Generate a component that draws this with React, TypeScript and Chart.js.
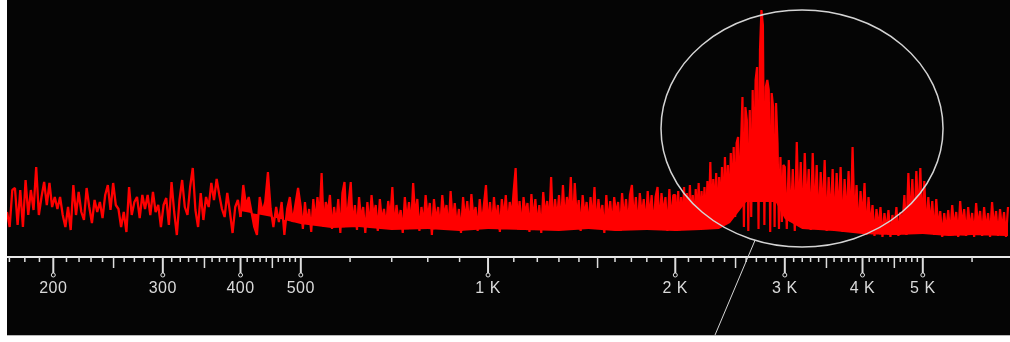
import { useEffect, useRef } from "react";
import { Chart, registerables } from "chart.js";

Chart.register(...registerables);

// Frequency span of the analyser display (Hz)
const freqMin = 168.5;
const freqMax = 6905;

// Edges of the sampled bands (Hz); each band has its own level array below
const bandEdges = [168.5, 400, 500, 1000, 2000, 3000, 6905];

// Levels (arbitrary units above the baseline)
const level170to400 = [
  45, 30, 67, 69, 32, 67, 30, 77, 42, 67, 47, 90, 42, 60, 75, 52, 74, 50, 60, 48,
  60, 42, 30, 50, 27, 72, 42, 65, 45, 37, 69, 50, 34, 57, 45, 55, 39, 62, 72, 47,
  74, 52, 48, 30, 45, 25, 70, 42, 55, 60, 39, 62, 48, 62, 42, 65, 45, 52, 30, 52,
  59, 32, 75, 45, 22, 57, 77, 50, 42, 70, 89, 47, 30, 64, 37, 60, 50, 74, 57, 78,
  62, 48, 40, 64, 45, 24, 50, 57,
];
const level400to500 = [
  40, 72, 52, 60, 45, 30, 22, 60, 45, 55, 85, 48, 30, 50, 35, 55, 22, 48, 60, 35,
  52, 69,
];
const level500to1k = [
  50, 28, 55, 33, 48, 25, 58, 35, 60, 40, 84, 30, 55, 45, 62, 28, 50, 32, 58, 24,
  64, 75, 35, 55, 75, 30, 52, 27, 60, 38, 50, 24, 55, 30, 62, 40, 52, 26, 58, 35,
  48, 30, 56, 38, 70, 28, 52, 34, 47, 24, 60, 36, 55, 30, 74, 40, 58, 26, 50, 32,
  62, 38, 54, 22, 58, 35, 50, 28, 62, 40, 52, 27, 66, 35, 54, 30, 48, 24, 60, 36,
  56, 30, 63, 38, 50, 26, 58, 33, 52, 72,
];
const level1kto2k = [
  30, 55, 28, 60, 35, 52, 25, 58, 38, 62, 30, 55, 40, 66, 89, 32, 56, 27, 60, 42,
  54, 25, 63, 36, 58, 30, 52, 24, 65, 40, 56, 33, 80, 28, 58, 37, 62, 30, 72, 35,
  60, 45, 80, 28, 74, 38, 57, 26, 62, 40, 55, 30, 60, 35, 70, 28, 58, 38, 52, 24,
  62, 34, 56, 30, 60, 42, 55, 26, 64, 36, 58, 30, 62, 72, 35, 60, 27, 64, 40, 58,
  30, 66, 38, 62, 28, 60, 70, 32, 64, 42, 60, 26, 68, 35, 62,
];
const level2kto3k = [
  62, 26, 66, 30, 60, 27, 70, 32, 64, 28, 72, 34, 62, 27, 68, 36, 74, 30, 66, 38,
  70, 29, 76, 40, 95, 33, 78, 42, 84, 30, 80, 45, 90, 35, 100, 48, 92, 38, 104, 52,
  110, 40, 114, 120, 55, 112, 160, 30, 150, 137, 26, 147, 40, 167, 80, 177, 190, 28, 207, 247,
  232, 32, 170, 177, 167, 25, 164, 150, 30, 154, 114, 28, 100, 35, 92,
];
const level3kto7k = [
  90, 28, 97, 35, 88, 26, 115, 40, 95, 30, 104, 45, 88, 27, 104, 38, 92, 30, 85, 42,
  97, 26, 80, 36, 88, 28, 84, 40, 90, 25, 78, 35, 86, 28, 110, 32, 72, 24, 66, 36,
  74, 22, 60, 30, 52, 21, 48, 28, 50, 20, 44, 26, 47, 20, 42, 27, 50, 21, 45, 30,
  62, 22, 84, 35, 78, 28, 86, 40, 89, 30, 76, 25, 60, 32, 56, 22, 58, 28, 46, 20,
  44, 26, 47, 21, 52, 28, 45, 20, 56, 30, 48, 21, 50, 27, 44, 20, 54, 29, 46, 21,
  50, 26, 44, 20, 55, 28, 46, 21, 48, 27, 45, 20, 50,
];

// Floor of the solid core of the dense spectrum (Hz, level)
const floorFreqs = [
  400, 450, 500, 560, 620, 700, 800, 900, 1000, 1150, 1300, 1450, 1600, 1800, 2000, 2200,
  2350, 2450, 2600, 2900, 3000, 3200, 3600, 4000, 4500, 5000, 5500, 6000, 6905,
];
const floorLevels = [
  46, 40, 33, 29, 30, 27, 28, 26, 28, 27, 26, 28, 26, 27, 26, 27,
  28, 34, 55, 55, 38, 28, 26, 23, 22, 23, 21, 22, 21,
];

// Axis tick values (Hz) and labels
const majorTicks = [200, 300, 400, 500, 1000, 2000, 3000, 4000, 5000];
const majorLabels = ["200", "300", "400", "500", "1 K", "2 K", "3 K", "4 K", "5 K"];
const midTicks = [250, 350, 450, 1500, 2500, 3500, 4500];
const minorTicks = [
  170, 180, 190, 210, 220, 230, 240, 260, 270, 280, 290, 310, 320, 330, 340, 360, 370, 380,
  390, 410, 420, 430, 440, 460, 470, 480, 490, 600, 700, 800, 900, 1100, 1200, 1300, 1400,
  1600, 1700, 1800, 1900, 2100, 2200, 2300, 2400, 2600, 2700, 2800, 2900, 3100, 3200, 3300,
  3400, 3600, 3700, 3800, 3900, 4100, 4200, 4300, 4400, 4600, 4700, 4800, 4900, 6000,
];

// Highlight annotation around the resonance (data units)
const highlightFreq = [1897, 5389];
const highlightLevel = [10, 247];
const pointerFrom = { f: 2688, v: 17 };
const pointerTo = { f: 2317, v: -78 };

const levelBands = [level170to400, level400to500, level500to1k, level1kto2k, level2kto3k, level3kto7k];

function bandPoints(s: number) {
  const vals = levelBands[s];
  const f0 = bandEdges[s];
  const f1 = bandEdges[s + 1];
  return vals.map((v, i) => ({ x: f0 * Math.pow(f1 / f0, i / vals.length), y: v }));
}

function buildSparse() {
  const pts = bandPoints(0);
  pts.push(bandPoints(1)[0]);
  return pts;
}

function buildDense() {
  const pts: { x: number; y: number }[] = [];
  for (let s = 1; s < levelBands.length; s++) pts.push(...bandPoints(s));
  return pts;
}

function buildFloor() {
  return floorFreqs.map((f, i) => ({ x: f, y: floorLevels[i] }));
}

const analyserPlugin = {
  id: "analyserAxis",
  afterDraw(chart: any) {
    const ctx = chart.ctx as CanvasRenderingContext2D;
    const xs = chart.scales.x;
    const ys = chart.scales.y;
    const base = chart.chartArea.bottom;
    ctx.save();
    // axis line
    ctx.strokeStyle = "#e8e8e8";
    ctx.lineWidth = 2;
    ctx.beginPath();
    ctx.moveTo(0, base);
    ctx.lineTo(chart.width, base);
    ctx.stroke();
    // minor ticks
    ctx.lineWidth = 1.5;
    ctx.strokeStyle = "#dedede";
    minorTicks.forEach((f) => {
      const x = xs.getPixelForValue(f);
      ctx.beginPath();
      ctx.moveTo(x, base);
      ctx.lineTo(x, base + 5);
      ctx.stroke();
    });
    midTicks.forEach((f) => {
      const x = xs.getPixelForValue(f);
      ctx.beginPath();
      ctx.moveTo(x, base);
      ctx.lineTo(x, base + 11);
      ctx.stroke();
    });
    // major ticks with pins
    ctx.lineWidth = 2;
    majorTicks.forEach((f) => {
      const x = xs.getPixelForValue(f);
      ctx.beginPath();
      ctx.moveTo(x, base);
      ctx.lineTo(x, base + 16);
      ctx.stroke();
      ctx.lineWidth = 1;
      ctx.beginPath();
      ctx.arc(x, base + 18, 2, 0, Math.PI * 2);
      ctx.stroke();
      ctx.lineWidth = 2;
    });
    // labels
    ctx.fillStyle = "#dadada";
    ctx.font = '16px "Liberation Sans", Arial, sans-serif';
    ctx.textAlign = "center";
    ctx.textBaseline = "middle";
    (ctx as any).letterSpacing = "0.5px";
    majorTicks.forEach((f, i) => {
      const x = xs.getPixelForValue(f);
      ctx.fillText(majorLabels[i], x, base + 32);
    });
    // highlight ellipse
    const x1 = xs.getPixelForValue(highlightFreq[0]);
    const x2 = xs.getPixelForValue(highlightFreq[1]);
    const y1 = ys.getPixelForValue(highlightLevel[1]);
    const y2 = ys.getPixelForValue(highlightLevel[0]);
    ctx.strokeStyle = "#d4d4d4";
    ctx.lineWidth = 1.5;
    ctx.beginPath();
    ctx.ellipse((x1 + x2) / 2, (y1 + y2) / 2, (x2 - x1) / 2, (y2 - y1) / 2, 0, 0, Math.PI * 2);
    ctx.stroke();
    // pointer line
    ctx.lineWidth = 1;
    ctx.beginPath();
    ctx.moveTo(xs.getPixelForValue(pointerFrom.f), ys.getPixelForValue(pointerFrom.v));
    ctx.lineTo(xs.getPixelForValue(pointerTo.f), ys.getPixelForValue(pointerTo.v));
    ctx.stroke();
    ctx.restore();
  },
};

export default function App() {
  const ref = useRef<HTMLCanvasElement | null>(null);
  useEffect(() => {
    if (!ref.current) return;
    const chart = new Chart(ref.current, {
      type: "line",
      data: {
        datasets: [
          {
            data: buildSparse(),
            borderColor: "#ff0000",
            borderWidth: 2.3,
            borderJoinStyle: "bevel",
            pointRadius: 0,
            tension: 0,
            fill: false,
          },
          {
            data: buildDense(),
            borderColor: "#ff0000",
            backgroundColor: "#ff0000",
            borderWidth: 2.2,
            borderJoinStyle: "bevel",
            pointRadius: 0,
            tension: 0,
            fill: 2,
          },
          {
            data: buildFloor(),
            borderColor: "rgba(0,0,0,0)",
            borderWidth: 0,
            pointRadius: 0,
            tension: 0,
            fill: false,
          },
        ],
      },
      options: {
        animation: false,
        responsive: false,
        devicePixelRatio: 1,
        events: [],
        layout: { padding: { left: 0, right: 0, top: 0, bottom: 78 } },
        plugins: { legend: { display: false }, tooltip: { enabled: false } },
        scales: {
          x: { type: "logarithmic", min: freqMin, max: freqMax, display: false },
          y: { type: "linear", min: 0, max: 257, display: false },
        },
      },
      plugins: [analyserPlugin],
    });
    return () => chart.destroy();
  }, []);
  return (
    <div style={{ position: "fixed", left: 0, top: 0, width: 1010, height: 342, background: "#ffffff" }}>
      <canvas
        ref={ref}
        width={1003}
        height={335}
        style={{ position: "absolute", left: 7, top: 0, width: 1003, height: 335, background: "#050505" }}
      />
      <div style={{ position: "absolute", left: 7, top: 335, width: 1003, height: 1, background: "#b8b8b8" }} />
    </div>
  );
}
